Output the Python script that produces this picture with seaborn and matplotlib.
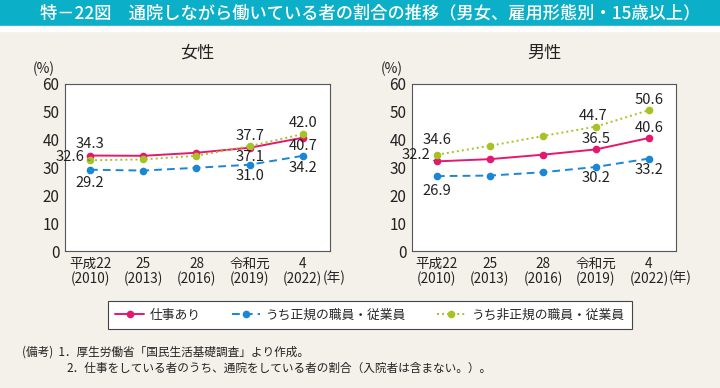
import matplotlib
matplotlib.use("Agg")
import matplotlib.pyplot as plt
import seaborn as sns
import pandas as pd

# --- data -------------------------------------------------------------
years = ["平成22\n(2010)", "25\n(2013)", "28\n(2016)", "令和元\n(2019)", "4\n(2022)"]
series = ["仕事あり", "うち正規の職員・従業員", "うち非正規の職員・従業員"]

female_work = [34.3, 34.2, 35.3, 37.1, 40.7]
female_regular = [29.2, 28.9, 29.9, 31.0, 34.2]
female_nonregular = [32.6, 32.9, 34.2, 37.7, 42.0]

male_work = [32.2, 33.0, 34.6, 36.5, 40.6]
male_regular = [26.9, 27.1, 28.3, 30.2, 33.2]
male_nonregular = [34.6, 37.8, 41.3, 44.7, 50.6]

# labels shown on the chart (series, year index)
female_labeled = [(0, 0), (0, 3), (0, 4), (1, 0), (1, 3), (1, 4), (2, 0), (2, 3), (2, 4)]
male_labeled = [(0, 0), (0, 3), (0, 4), (1, 0), (1, 3), (1, 4), (2, 0), (2, 3), (2, 4)]

# --- style ------------------------------------------------------------
colors = {"仕事あり": "#e5186e", "うち正規の職員・従業員": "#1a86d6",
          "うち非正規の職員・従業員": "#a5c423"}
dashes = {"仕事あり": "", "うち正規の職員・従業員": (4, 2.6),
          "うち非正規の職員・従業員": (1, 1.6)}
markers = {s: "o" for s in series}
bg = "#f4f1ea"

sns.set_theme(style="white")
plt.rcParams["font.family"] = ["Noto Sans CJK JP", "DejaVu Sans"]
plt.rcParams["axes.unicode_minus"] = False


def to_long(vals):
    rows = []
    for s, v in zip(series, vals):
        for i, y in enumerate(v):
            rows.append({"x": i, "value": y, "series": s})
    return pd.DataFrame(rows)


female = to_long([female_work, female_regular, female_nonregular])
male = to_long([male_work, male_regular, male_nonregular])

# offsets in points for the value labels: (dx, dy, ha, leader)
female_offsets = {
    (0, 0): (0, 8, "center", False), (0, 3): (0, -7, "center", False),
    (0, 4): (0, -6, "center", False),
    (1, 0): (0, -9.5, "center", False), (1, 3): (0, -8, "center", False),
    (1, 4): (0, -8.5, "center", False),
    (2, 0): (-4, 2.5, "right", True), (2, 3): (0, 7.5, "center", False),
    (2, 4): (0, 8, "center", False),
}
male_offsets = {
    (0, 0): (-5, 4.5, "right", True), (0, 3): (0, 7.5, "center", False),
    (0, 4): (0, 7.5, "center", False),
    (1, 0): (0, -10.5, "center", False), (1, 3): (0, -8, "center", False),
    (1, 4): (0, -8.5, "center", False),
    (2, 0): (0, 10.5, "center", False), (2, 3): (-2, 7.5, "center", False),
    (2, 4): (0, 7.5, "center", False),
}

W, H = 720, 388
fig = plt.figure(figsize=(7.2, 3.88), dpi=100)
fig.patch.set_facecolor(bg)

# title bar
fig.patches.append(plt.Rectangle((0, 1 - 26 / H), 1, 26 / H, transform=fig.transFigure,
                                 color="#0bafc8", zorder=0))
fig.patches.append(plt.Rectangle((0, 1 - 31 / H), 1, 5 / H, transform=fig.transFigure,
                                 color="white", zorder=0))
fig.text(40 / W, 1 - 13.5 / H, "特－22図　通院しながら働いている者の割合の推移（男女、雇用形態別・15歳以上）",
         color="white", fontsize=12.4, va="center", ha="left", fontweight="medium")


def draw_panel(left, right, df, vals, labeled, offsets, title, pct_x):
    ax = fig.add_axes([left / W, 1 - 251 / H, (right - left) / W, 167 / H])
    ax.set_facecolor("white")
    sns.lineplot(data=df, x="x", y="value", hue="series", style="series",
                 palette=colors, dashes=dashes, markers=markers, linewidth=1.4,
                 markersize=5.5, markeredgewidth=0, ax=ax)
    handles, labels = ax.get_legend_handles_labels()
    ax.get_legend().remove()
    ax.set_xlim(-0.47, 4.51)
    ax.set_ylim(0, 60)
    ax.set_yticks(range(0, 61, 10))
    ax.set_xticks(range(len(years)))
    ax.set_xticklabels(years, fontsize=9.8, linespacing=1.0)
    ax.tick_params(axis="y", labelsize=11, direction="in", length=4, width=0.8,
                   color="#555555", pad=4, labelcolor="#222222")
    ax.tick_params(axis="x", direction="in", length=4, width=0.8, color="#555555",
                   pad=4.5, labelcolor="#222222")
    ax.set_xlabel("")
    ax.set_ylabel("")
    for sp in ax.spines.values():
        sp.set_color("#555555")
        sp.set_linewidth(0.8)
    for (si, yi) in labeled:
        v = vals[si][yi]
        dx, dy, ha, leader = offsets[(si, yi)]
        ax.annotate(f"{v:.1f}", xy=(yi, v), xytext=(dx, dy), textcoords="offset points",
                    ha=ha, va="center", fontsize=10.6, color="#222222",
                    arrowprops=dict(arrowstyle="-", color="#555555", lw=0.6,
                                    shrinkA=0, shrinkB=2) if leader else None)
    ax.annotate("(年)", xy=(4, 0), xycoords=("data", "axes fraction"),
                xytext=(14, -19.5), textcoords="offset points", ha="left",
                va="center", fontsize=9.8, color="#222222")
    fig.text((left + right) / 2 / W, 1 - 53 / H, title, ha="center", va="center",
             fontsize=12.3, color="#222222")
    fig.text(pct_x / W, 1 - 69 / H, "(%)", ha="center", va="center",
             fontsize=10, color="#222222")
    return handles, labels


handles, labels = draw_panel(65, 330, female,
                             [female_work, female_regular, female_nonregular],
                             female_labeled, female_offsets, "女性", 44)
draw_panel(412, 676, male, [male_work, male_regular, male_nonregular],
           male_labeled, male_offsets, "男性", 392)

leg = fig.legend(handles, labels, loc="center", bbox_to_anchor=(370 / W, 1 - 315 / H),
                 ncol=3, fontsize=9.2, frameon=True, fancybox=False,
                 handlelength=2.2, handletextpad=0.5, columnspacing=2.4,
                 borderpad=0.55, edgecolor="#444444", facecolor="white")
leg.get_frame().set_linewidth(0.8)
leg.get_frame().set_alpha(1)

fig.text(22 / W, 1 - 352 / H, "(備考)  1．厚生労働省「国民生活基礎調査」より作成。",
         fontsize=8.4, color="#222222", va="center")
fig.text(66 / W, 1 - 368.5 / H, "2．仕事をしている者のうち、通院をしている者の割合（入院者は含まない。）。",
         fontsize=8.4, color="#222222", va="center")

fig.savefig("out.png", dpi=100, facecolor=bg)
